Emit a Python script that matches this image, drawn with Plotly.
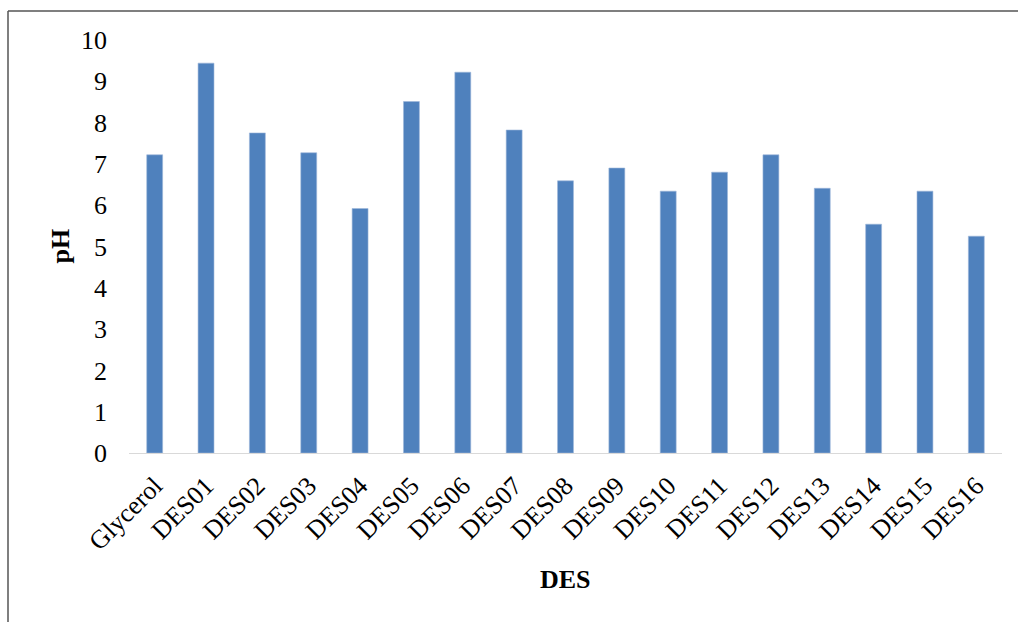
import plotly.graph_objects as go

# pH of glycerol and the deep eutectic solvents
categories = ["Glycerol", "DES01", "DES02", "DES03", "DES04", "DES05", "DES06",
              "DES07", "DES08", "DES09", "DES10", "DES11", "DES12", "DES13",
              "DES14", "DES15", "DES16"]
ph_values = [7.22, 9.44, 7.75, 7.27, 5.92, 8.51, 9.22, 7.82, 6.59, 6.90,
             6.34, 6.80, 7.22, 6.41, 5.54, 6.34, 5.25]
y_ticks = [0, 1, 2, 3, 4, 5, 6, 7, 8, 9, 10]

W, H = 1018, 622
ML, MR, MT, MB = 129, 16, 40, 169
FONT = "Liberation Serif"
FS = 26

fig = go.Figure(
    go.Bar(
        x=categories,
        y=ph_values,
        marker=dict(color="#4F81BD", line=dict(color="#9DB7DA", width=0.6)),
    )
)

# helpers converting figure pixels to paper coordinates
pw, ph = W - ML - MR, H - MT - MB
def px_x(p):
    return (p - ML) / pw
def px_y(p):
    return (H - MB - p) / ph

# outer frame along the top and left edges of the figure
frame = dict(color="#555555", width=1.5)
fig.add_shape(type="line", xref="paper", yref="paper",
              x0=px_x(8), y0=px_y(11), x1=px_x(W + 2), y1=px_y(11), line=frame)
fig.add_shape(type="line", xref="paper", yref="paper",
              x0=px_x(8), y0=px_y(11), x1=px_x(8), y1=px_y(H + 2), line=frame)

# axis titles
fig.add_annotation(text="<b>DES</b>", xref="paper", yref="paper",
                   x=0.5, y=px_y(579), xanchor="center", yanchor="middle",
                   showarrow=False, font=dict(family=FONT, size=FS, color="black"))
fig.add_annotation(text="<b>pH</b>", xref="paper", yref="paper",
                   x=px_x(60), y=0.5, xanchor="center", yanchor="middle",
                   textangle=-90, showarrow=False,
                   font=dict(family=FONT, size=FS, color="black"))

fig.update_layout(
    width=W,
    height=H,
    margin=dict(l=ML, r=MR, t=MT, b=MB, pad=0),
    paper_bgcolor="white",
    plot_bgcolor="white",
    bargap=0.69,
    showlegend=False,
    font=dict(family=FONT, size=FS, color="black"),
    xaxis=dict(
        tickangle=-45,
        showline=True,
        linecolor="#D9D9D9",
        linewidth=1.3,
        showgrid=False,
        ticks="",
        ticklabelstandoff=6,
        tickfont=dict(family=FONT, size=FS, color="black"),
    ),
    yaxis=dict(
        range=[0, 10],
        tickvals=y_ticks,
        showline=False,
        showgrid=False,
        zeroline=False,
        ticks="",
        ticklabelstandoff=21,
        tickfont=dict(family=FONT, size=FS, color="black"),
    ),
)

fig.write_html("out.html")
